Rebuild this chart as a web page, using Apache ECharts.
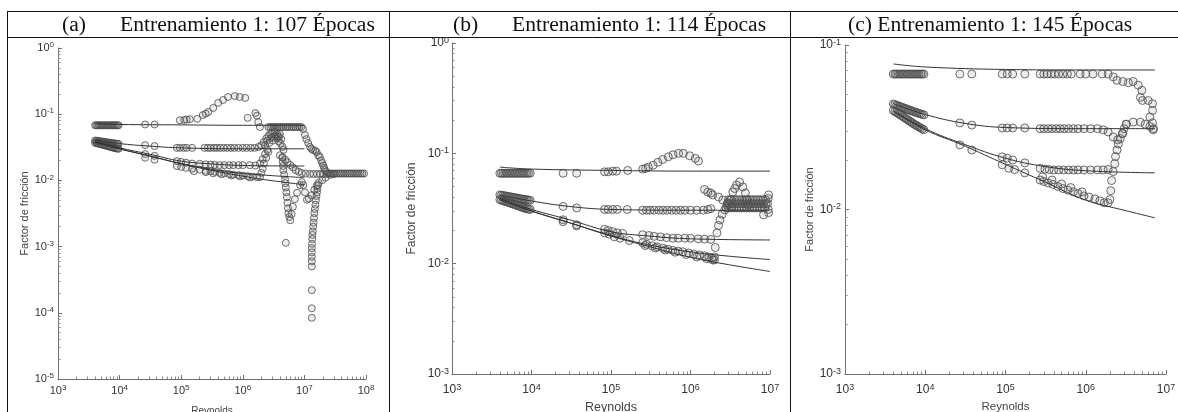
<!DOCTYPE html>
<html>
<head>
<meta charset="utf-8">
<script src="https://cdn.jsdelivr.net/npm/echarts@6/dist/echarts.min.js"></script>
<style>
    html, body { margin: 0; padding: 0; background: #fff; }
    #chart { width: 1178px; height: 412px; }
</style>
</head>
<body>
<div id="chart"></div>
<script>
// ---------- data: [Reynolds, factor de friccion] ----------
const titles = ['Entrenamiento 1: 107 Épocas', 'Entrenamiento 1: 114 Épocas', '(c) Entrenamiento 1: 145 Épocas'];
const tags = ['(a)', '(b)', ''];

// panel (a)
const aLines = [
    [[4000, 0.072], [10000, 0.070], [100000, 0.069], [1000000, 0.068], [10000000, 0.068]],
    [[4000, 0.041], [10000, 0.036], [30000, 0.033], [100000, 0.031], [1000000, 0.030], [10000000, 0.030]],
    [[4000, 0.039], [10000, 0.031], [30000, 0.025], [100000, 0.0195], [300000, 0.0178], [1000000, 0.0168], [10000000, 0.0165]],
    [[4000, 0.038], [10000, 0.030], [30000, 0.0235], [100000, 0.018], [300000, 0.0148], [1000000, 0.0128], [3000000, 0.0118], [10000000, 0.011]],
    [[4000, 0.038], [10000, 0.030], [30000, 0.0235], [100000, 0.0178], [300000, 0.0143], [1000000, 0.0116], [3000000, 0.0099], [10000000, 0.0086]]
];
const aTop = [
    [4000, 0.068], [4190, 0.068], [4390, 0.068], [4600, 0.068], [4810, 0.068], [5040, 0.068], [5280, 0.068],
    [5530, 0.068], [5790, 0.068], [6060, 0.068], [6350, 0.068], [6650, 0.068], [6960, 0.068], [7290, 0.068],
    [7640, 0.068], [8000, 0.068], [8380, 0.068], [8770, 0.068], [9190, 0.068], [9620, 0.068],
    [26000, 0.070], [37000, 0.070],
    [95000, 0.081], [112000, 0.082], [123000, 0.083], [138000, 0.084], [182000, 0.085],
    [224000, 0.097], [250000, 0.102], [275000, 0.108], [331000, 0.124], [398000, 0.148], [479000, 0.164],
    [575000, 0.182], [741000, 0.188], [891000, 0.182], [1096000, 0.176],
    [1200000, 0.088], [1600000, 0.104], [1700000, 0.095], [1780000, 0.076], [1900000, 0.064]
];
const aBand = [
    [2600000, 0.064], [2800000, 0.064], [3000000, 0.064], [3200000, 0.064], [3450000, 0.064], [3700000, 0.064],
    [4000000, 0.064], [4300000, 0.064], [4600000, 0.064], [5000000, 0.064], [5350000, 0.064], [5750000, 0.064],
    [6200000, 0.064], [6650000, 0.064], [7150000, 0.064], [7700000, 0.064], [8300000, 0.064], [8900000, 0.064],
    [9500000, 0.060], [10200000, 0.0485], [10800000, 0.042], [11500000, 0.0367], [12300000, 0.0321], [13000000, 0.030],
    [13800000, 0.0287], [15000000, 0.028], [15800000, 0.0268], [16800000, 0.024], [17800000, 0.0225], [18700000, 0.020],
    [19500000, 0.0183], [20200000, 0.0168], [20900000, 0.0154], [21600000, 0.0143], [22400000, 0.0134], [24000000, 0.0128],
    [25500000, 0.0127], [27300000, 0.0127], [29200000, 0.0127], [31300000, 0.0127], [33500000, 0.0127], [35900000, 0.0127],
    [38400000, 0.0127], [41100000, 0.0127], [44000000, 0.0127], [47100000, 0.0127], [50400000, 0.0127], [54000000, 0.0127],
    [57800000, 0.0127], [61900000, 0.0127], [66300000, 0.0127], [71000000, 0.0127], [76000000, 0.0127], [81400000, 0.0127],
    [87200000, 0.0127], [93000000, 0.0127]
];
const aMid = [
    [4000, 0.0400], [4190, 0.0397], [4390, 0.0395], [4600, 0.0392], [4810, 0.0390], [5040, 0.0387], [5280, 0.0385],
    [5530, 0.0382], [5790, 0.0380], [6060, 0.0377], [6350, 0.0375], [6650, 0.0372], [6960, 0.0370], [7290, 0.0367],
    [7640, 0.0365], [8000, 0.0363], [8380, 0.0361], [8770, 0.0359], [9190, 0.0357], [9620, 0.0355],
    [4000, 0.0370], [4190, 0.0366], [4390, 0.0362], [4600, 0.0358], [4810, 0.0354], [5040, 0.0350], [5280, 0.0346],
    [5530, 0.0342], [5790, 0.0338], [6060, 0.0334], [6350, 0.0330], [6650, 0.0326], [6960, 0.0322], [7290, 0.0318],
    [7640, 0.0314], [8000, 0.0311], [8380, 0.0308], [8770, 0.0305], [9190, 0.0302], [9620, 0.0300],
    [26000, 0.034], [37000, 0.033], [85000, 0.031], [95000, 0.031], [110000, 0.031], [123000, 0.031], [150000, 0.031],
    [240000, 0.031], [270000, 0.031], [300000, 0.031], [340000, 0.031], [380000, 0.031], [430000, 0.031], [490000, 0.031],
    [560000, 0.031], [640000, 0.031], [730000, 0.031], [850000, 0.031], [1000000, 0.031], [1150000, 0.031],
    [1350000, 0.031], [1550000, 0.031], [1800000, 0.032]
];
const aCluster = [
    [2000000, 0.034], [2200000, 0.038], [2400000, 0.043], [2600000, 0.047], [2800000, 0.050], [3000000, 0.052],
    [3300000, 0.054], [3600000, 0.050], [3900000, 0.046], [4200000, 0.042], [2900000, 0.044], [3200000, 0.046],
    [3500000, 0.043], [3800000, 0.039], [4100000, 0.036], [4400000, 0.032], [4600000, 0.029], [2500000, 0.040],
    [2700000, 0.037], [3100000, 0.040], [3400000, 0.048], [3700000, 0.045], [4000000, 0.050], [2300000, 0.034],
    [4000000, 0.024], [4400000, 0.022], [4900000, 0.0205], [5300000, 0.0188], [5900000, 0.0171], [6500000, 0.0157],
    [7200000, 0.0143], [8100000, 0.0135], [9100000, 0.0129], [10500000, 0.0127], [12300000, 0.0125], [14000000, 0.0125],
    [16000000, 0.0125], [18000000, 0.0125], [20000000, 0.0125], [23000000, 0.0125]
];
const aLow = [
    [26000, 0.025], [37000, 0.0235], [85000, 0.0195], [100000, 0.019], [120000, 0.0185], [150000, 0.018], [200000, 0.0178],
    [250000, 0.0175], [300000, 0.0173], [350000, 0.0172], [420000, 0.017], [500000, 0.017], [600000, 0.017], [700000, 0.017],
    [850000, 0.017], [1000000, 0.017], [1300000, 0.017], [1600000, 0.0168], [1900000, 0.018], [2100000, 0.021],
    [2300000, 0.025], [2500000, 0.029],
    [26000, 0.022], [37000, 0.0205], [85000, 0.0165], [100000, 0.016], [120000, 0.0155], [150000, 0.015], [200000, 0.0145],
    [250000, 0.014], [300000, 0.0138], [350000, 0.0135], [420000, 0.013], [500000, 0.0128], [600000, 0.0125], [700000, 0.0122],
    [850000, 0.012], [1000000, 0.0118], [1200000, 0.0116], [1450000, 0.0114], [1700000, 0.0112], [1900000, 0.0112],
    [2000000, 0.013], [2100000, 0.015], [2200000, 0.018], [2400000, 0.022], [2600000, 0.027],
    [160000, 0.0138], [250000, 0.0133], [330000, 0.0128], [450000, 0.0124], [650000, 0.0119], [900000, 0.0115], [1300000, 0.0111]
];
const aDip = [
    [4400000, 0.0225], [4450000, 0.019], [4500000, 0.0165], [4550000, 0.0143], [4700000, 0.0122], [4850000, 0.0103],
    [4900000, 0.0091], [5000000, 0.0078], [5100000, 0.0066], [5200000, 0.0056], [5300000, 0.0046], [5400000, 0.0038],
    [5500000, 0.0032], [5700000, 0.0028], [5900000, 0.0025], [6200000, 0.0031], [6500000, 0.004], [7000000, 0.0052],
    [7600000, 0.0065], [8500000, 0.0085], [9100000, 0.0094],
    [9600000, 0.0085], [10200000, 0.0066], [11000000, 0.0051], [11800000, 0.0053], [13200000, 0.006], [14500000, 0.0072],
    [15800000, 0.0083], [17000000, 0.0092], [19500000, 0.0101], [22000000, 0.011], [26300000, 0.0121], [30000000, 0.0124],
    [5000000, 0.00114]
];
const aSpike = [
    [16600000, 0.0085], [16300000, 0.0075], [16000000, 0.0066], [15700000, 0.0058], [15400000, 0.005], [15100000, 0.0043],
    [14800000, 0.0037], [14500000, 0.0032], [14300000, 0.0027], [14100000, 0.0023], [13900000, 0.002], [13700000, 0.0017],
    [13500000, 0.0015], [13400000, 0.0013], [13300000, 0.0011], [13200000, 0.00095], [13200000, 0.00082], [13200000, 0.0007],
    [13200000, 0.0006], [13200000, 0.0005], [13200000, 0.00022], [13200000, 0.000117], [13200000, 0.000084]
];

// panel (b)
const bLines = [
    [[4000, 0.075], [10000, 0.072], [100000, 0.070], [1000000, 0.069], [10000000, 0.069]],
    [[4000, 0.042], [10000, 0.037], [30000, 0.033], [100000, 0.031], [1000000, 0.0305], [10000000, 0.0305]],
    [[4000, 0.039], [10000, 0.031], [30000, 0.025], [100000, 0.0195], [300000, 0.0178], [1000000, 0.0168], [10000000, 0.0164]],
    [[4000, 0.038], [10000, 0.030], [30000, 0.0235], [100000, 0.018], [300000, 0.0148], [1000000, 0.0128], [3000000, 0.0117], [10000000, 0.0109]],
    [[4000, 0.038], [10000, 0.030], [30000, 0.0235], [100000, 0.0178], [300000, 0.0143], [1000000, 0.0114], [3000000, 0.0098], [10000000, 0.0085]]
];
const bTop = [
    [4000, 0.066], [4190, 0.066], [4390, 0.066], [4600, 0.066], [4810, 0.066], [5040, 0.066], [5280, 0.066],
    [5530, 0.066], [5790, 0.066], [6060, 0.066], [6350, 0.066], [6650, 0.066], [6960, 0.066], [7290, 0.066],
    [7640, 0.066], [8000, 0.066], [8380, 0.066], [8770, 0.066], [9190, 0.066], [9620, 0.066],
    [25000, 0.066], [37000, 0.066], [83000, 0.068], [92000, 0.068], [105000, 0.069], [117000, 0.069], [162000, 0.070],
    [251000, 0.072], [273000, 0.073], [295000, 0.075], [339000, 0.078], [389000, 0.083], [447000, 0.088], [525000, 0.093],
    [603000, 0.097], [708000, 0.100], [813000, 0.100], [977000, 0.095], [1150000, 0.090], [1260000, 0.085]
];
const bMid = [
    [4000, 0.0420], [4190, 0.0417], [4390, 0.0415], [4600, 0.0412], [4810, 0.0410], [5040, 0.0407], [5280, 0.0405],
    [5530, 0.0402], [5790, 0.0400], [6060, 0.0397], [6350, 0.0395], [6650, 0.0392], [6960, 0.0390], [7290, 0.0387],
    [7640, 0.0385], [8000, 0.0383], [8380, 0.0381], [8770, 0.0379], [9190, 0.0377], [9620, 0.0375],
    [4000, 0.0380], [4190, 0.0376], [4390, 0.0372], [4600, 0.0368], [4810, 0.0364], [5040, 0.0360], [5280, 0.0356],
    [5530, 0.0352], [5790, 0.0348], [6060, 0.0344], [6350, 0.0340], [6650, 0.0336], [6960, 0.0332], [7290, 0.0328],
    [7640, 0.0324], [8000, 0.0320], [8380, 0.0317], [8770, 0.0314], [9190, 0.0312], [9620, 0.0310],
    [25000, 0.033], [37000, 0.032], [83000, 0.031], [92000, 0.031], [105000, 0.031], [120000, 0.031], [160000, 0.031],
    [250000, 0.0305], [280000, 0.0305], [310000, 0.0305], [350000, 0.0305], [400000, 0.0305], [450000, 0.0305],
    [510000, 0.0305], [580000, 0.0305], [660000, 0.0305], [750000, 0.0305], [850000, 0.0305], [1000000, 0.0305],
    [1200000, 0.0305], [1450000, 0.0305], [1650000, 0.031], [1800000, 0.0315]
];
const bBlob = [
    [2800000, 0.032], [3000000, 0.032], [3250000, 0.032], [3500000, 0.032], [3800000, 0.032], [4100000, 0.032],
    [4400000, 0.032], [4750000, 0.032], [5100000, 0.032], [5500000, 0.032], [5950000, 0.032], [6400000, 0.032],
    [6900000, 0.032], [7450000, 0.032], [8000000, 0.032], [8600000, 0.032],
    [2900000, 0.035], [3100000, 0.035], [3350000, 0.035], [3600000, 0.035], [3900000, 0.035], [4200000, 0.035],
    [4550000, 0.035], [4900000, 0.035], [5300000, 0.035], [5700000, 0.035], [6150000, 0.035], [6650000, 0.035],
    [7150000, 0.035], [7700000, 0.035], [8300000, 0.035], [8900000, 0.035],
    [3000000, 0.038], [3250000, 0.038], [3500000, 0.038], [3800000, 0.038], [4100000, 0.038], [4450000, 0.038],
    [4800000, 0.038], [5200000, 0.038], [5600000, 0.038], [6050000, 0.038], [6550000, 0.038], [7050000, 0.038],
    [7600000, 0.038], [8200000, 0.038], [8800000, 0.038],
    [9300000, 0.035], [9500000, 0.039], [9500000, 0.031], [9600000, 0.042], [9600000, 0.029], [8300000, 0.0277],
    [1500000, 0.047], [1650000, 0.0446], [1800000, 0.0437], [1900000, 0.042], [2250000, 0.0402], [2550000, 0.0378],
    [2950000, 0.0356], [3300000, 0.0326],
    [1900000, 0.0108], [2000000, 0.0115], [2050000, 0.014], [2150000, 0.019], [2250000, 0.0222], [2350000, 0.0249],
    [2500000, 0.028], [2700000, 0.0307], [2900000, 0.034], [3150000, 0.0378], [3400000, 0.0446], [3600000, 0.048],
    [3800000, 0.0516], [4150000, 0.055], [4550000, 0.0496], [4900000, 0.0437], [5100000, 0.0378], [5300000, 0.034]
];
const bLow = [
    [25000, 0.025], [37000, 0.0225], [83000, 0.0205], [92000, 0.020], [105000, 0.0195], [120000, 0.019], [140000, 0.0188],
    [250000, 0.0183], [300000, 0.018], [350000, 0.0177], [420000, 0.0175], [500000, 0.0172], [600000, 0.017], [700000, 0.017],
    [850000, 0.017], [1000000, 0.017], [1250000, 0.0168], [1500000, 0.0167], [1800000, 0.0166],
    [25000, 0.024], [37000, 0.022], [83000, 0.019], [95000, 0.0185], [110000, 0.0175], [130000, 0.017], [170000, 0.0162],
    [250000, 0.0155], [280000, 0.015], [330000, 0.0145], [380000, 0.0142], [450000, 0.0138], [520000, 0.0135],
    [600000, 0.0132], [700000, 0.013], [800000, 0.0128], [950000, 0.0125], [1100000, 0.0122], [1300000, 0.012],
    [1500000, 0.0118], [1700000, 0.0115], [1850000, 0.0112], [2000000, 0.0108],
    [270000, 0.0146], [360000, 0.0139], [480000, 0.0133], [640000, 0.0127], [880000, 0.0121], [1200000, 0.0115], [1600000, 0.0111]
];

// panel (c)
const cLines = [
    [[4000, 0.0767], [10000, 0.0735], [100000, 0.071], [1000000, 0.0705], [7300000, 0.0705]],
    [[4000, 0.044], [10000, 0.0378], [30000, 0.0335], [100000, 0.0315], [1000000, 0.031], [7300000, 0.031]],
    [[4000, 0.040], [10000, 0.031], [30000, 0.025], [100000, 0.0205], [300000, 0.0183], [1000000, 0.0172], [7300000, 0.0167]],
    [[4000, 0.0395], [10000, 0.0305], [30000, 0.0245], [100000, 0.0188], [300000, 0.0148], [1000000, 0.0114], [3000000, 0.0099], [7300000, 0.0089]]
];
const cTop = [
    [4000, 0.0666], [4190, 0.0666], [4390, 0.0666], [4600, 0.0666], [4810, 0.0666], [5040, 0.0666], [5280, 0.0666],
    [5530, 0.0666], [5790, 0.0666], [6060, 0.0666], [6350, 0.0666], [6650, 0.0666], [6960, 0.0666], [7290, 0.0666],
    [7640, 0.0666], [8000, 0.0666], [8380, 0.0666], [8770, 0.0666], [9190, 0.0666], [9620, 0.0666],
    [27000, 0.0666], [38000, 0.0666], [91000, 0.0666], [105000, 0.0666], [123000, 0.0666], [174000, 0.0666],
    [270000, 0.0666], [300000, 0.0666], [330000, 0.0666], [370000, 0.0666], [410000, 0.0666], [460000, 0.0666],
    [520000, 0.0666], [590000, 0.0666], [660000, 0.0666], [850000, 0.0666], [1000000, 0.0666], [1230000, 0.0666],
    [1600000, 0.0666], [1900000, 0.0666], [2200000, 0.064], [2450000, 0.061], [2900000, 0.060], [3400000, 0.059],
    [3900000, 0.060], [4500000, 0.057], [5000000, 0.053], [4800000, 0.048], [5100000, 0.046], [6000000, 0.046],
    [6800000, 0.044], [6800000, 0.040], [6300000, 0.0365], [6800000, 0.0336], [6900000, 0.0305]
];
const cMid = [
    [4000, 0.0438], [4190, 0.0434], [4390, 0.0430], [4600, 0.0427], [4810, 0.0423], [5040, 0.0420], [5280, 0.0416],
    [5530, 0.0413], [5790, 0.0409], [6060, 0.0406], [6350, 0.0402], [6650, 0.0399], [6960, 0.0396], [7290, 0.0393],
    [7640, 0.0390], [8000, 0.0387], [8380, 0.0384], [8770, 0.0381], [9190, 0.0378], [9620, 0.0376],
    [4000, 0.0400], [4190, 0.0394], [4390, 0.0389], [4600, 0.0383], [4810, 0.0378], [5040, 0.0372], [5280, 0.0367],
    [5530, 0.0361], [5790, 0.0356], [6060, 0.0351], [6350, 0.0345], [6650, 0.0340], [6960, 0.0335], [7290, 0.0330],
    [7640, 0.0326], [8000, 0.0321], [8380, 0.0317], [8770, 0.0313], [9190, 0.0309], [9620, 0.0305],
    [27000, 0.0336], [38000, 0.0326], [91000, 0.0313], [105000, 0.0313], [123000, 0.0313], [174000, 0.0313],
    [270000, 0.031], [300000, 0.031], [340000, 0.031], [380000, 0.031], [430000, 0.031], [480000, 0.031],
    [540000, 0.031], [610000, 0.031], [700000, 0.031], [800000, 0.031], [950000, 0.031], [1150000, 0.031],
    [1400000, 0.031], [1650000, 0.0305], [1900000, 0.0296], [2200000, 0.0276], [2500000, 0.0265], [2900000, 0.029],
    [3200000, 0.033], [3900000, 0.034], [4800000, 0.034], [5500000, 0.033], [6300000, 0.032], [7000000, 0.031]
];
const cLow = [
    [27000, 0.0247], [38000, 0.023], [91000, 0.0209], [105000, 0.0205], [123000, 0.020], [174000, 0.0192],
    [270000, 0.0178], [310000, 0.0176], [350000, 0.0175], [400000, 0.0174], [460000, 0.0174], [530000, 0.0174],
    [610000, 0.0174], [700000, 0.0174], [800000, 0.0174], [950000, 0.0174], [1150000, 0.0174], [1400000, 0.0174],
    [1650000, 0.0174], [1900000, 0.0175],
    [91000, 0.0187], [110000, 0.0178], [130000, 0.0175], [174000, 0.0167], [270000, 0.0151], [300000, 0.0148],
    [340000, 0.0145], [390000, 0.0142], [450000, 0.0138], [520000, 0.0134], [600000, 0.0131], [700000, 0.0128],
    [800000, 0.0125], [950000, 0.0121], [1100000, 0.0119], [1300000, 0.0116], [1500000, 0.0113], [1700000, 0.011],
    [1900000, 0.011], [290000, 0.0158], [380000, 0.0151], [500000, 0.0143], [650000, 0.0136], [900000, 0.0128],
    [2000000, 0.0115], [2050000, 0.013], [2100000, 0.015], [2200000, 0.017], [2300000, 0.019], [2350000, 0.021],
    [2450000, 0.023], [2550000, 0.025], [2700000, 0.027], [2850000, 0.029], [3000000, 0.031], [3200000, 0.033]
];

// ---------- layout per panel ----------
const panels = [
    { grid: { left: 58, top: 48, width: 308, height: 331 }, xMax: 1e8, yMin: 1e-5, yMax: 1,
      labelSize: 11, xMargin: 5, yMargin: 4, xName: 10, yName: 11, xGap: 27, yGap: 26, size: 7,
      lines: aLines, points: [aTop, aBand, aMid, aCluster, aLow, aDip, aSpike] },
    { grid: { left: 452, top: 43, width: 318, height: 331 }, xMax: 1e7, yMin: 1e-3, yMax: 1,
      labelSize: 12, xMargin: 9, yMargin: 3, xName: 12.5, yName: 12, xGap: 21, yGap: 34, size: 8,
      lines: bLines, points: [bTop, bMid, bBlob, bLow] },
    { grid: { left: 845, top: 45, width: 321, height: 329 }, xMax: 1e7, yMin: 1e-3, yMax: 0.1,
      labelSize: 12, xMargin: 9, yMargin: 4, xName: 11.5, yName: 11, xGap: 20, yGap: 29, size: 8,
      lines: cLines, points: [cTop, cMid, cLow] }
];

function powLabel(v) {
    return '{b|10}{s|' + Math.round(Math.log10(v)) + '}';
}

// 2..9 x 10^k between the decades of an axis
function minorValues(lo, hi) {
    const out = [];
    for (let e = Math.round(Math.log10(lo)); e < Math.round(Math.log10(hi)); e++) {
        for (let k = 2; k <= 9; k++) out.push(k * Math.pow(10, e));
    }
    return out;
}

function logAxis(p, i, isX) {
    const min = isX ? 1e3 : p.yMin, max = isX ? p.xMax : p.yMax;
    return {
        type: 'log', logBase: 10, gridIndex: i,
        position: isX ? 'bottom' : 'left',
        min: min, max: max,
        name: isX ? 'Reynolds' : 'Factor de fricción',
        nameLocation: 'middle',
        nameGap: isX ? p.xGap : p.yGap,
        nameTextStyle: { fontFamily: 'Liberation Sans', fontSize: isX ? p.xName : p.yName, color: '#444' },
        axisLine: { show: true, lineStyle: { color: '#707070', width: 1 } },
        axisTick: { show: true, inside: true, length: 4, lineStyle: { color: '#707070' } },
        splitLine: { show: false },
        axisLabel: {
            margin: isX ? p.xMargin : p.yMargin,
            fontSize: p.labelSize,
            fontFamily: 'Liberation Sans',
            color: '#333',
            formatter: powLabel,
            rich: {
                b: { fontFamily: 'Liberation Sans', fontSize: p.labelSize, lineHeight: 14, color: '#333' },
                s: { fontFamily: 'Liberation Sans', fontSize: p.labelSize - 3, lineHeight: 14, verticalAlign: 'top', color: '#333' }
            }
        }
    };
}

function minorAxis(p, i, isX) {
    const min = isX ? 1e3 : p.yMin, max = isX ? p.xMax : p.yMax;
    return {
        type: 'log', logBase: 10, gridIndex: i,
        position: isX ? 'bottom' : 'left',
        min: min, max: max,
        axisLine: { show: false },
        axisLabel: { show: false },
        splitLine: { show: false },
        axisTick: { show: true, inside: true, length: 2.5, customValues: minorValues(min, max),
            lineStyle: { color: '#8a8a8a' } }
    };
}

const option = {
    animation: false,
    backgroundColor: '#fff',
    grid: [], xAxis: [], yAxis: [], series: [],
    graphic: []
};

panels.forEach(function (p, i) {
    option.grid.push(Object.assign({ containLabel: false, outerBoundsMode: 'none' }, p.grid));
    option.xAxis.push(logAxis(p, i, true));
    option.yAxis.push(logAxis(p, i, false));
    p.points.forEach(function (d) {
        option.series.push({
            type: 'scatter', xAxisIndex: i, yAxisIndex: i, data: d,
            symbol: 'circle', symbolSize: p.size, z: 2,
            itemStyle: { color: 'rgba(100,100,100,0.14)', borderColor: '#4c4c4c', borderWidth: 1 }
        });
    });
    p.lines.forEach(function (d) {
        option.series.push({
            type: 'line', xAxisIndex: i, yAxisIndex: i, data: d,
            smooth: 0.4, showSymbol: false, z: 3,
            lineStyle: { color: '#333', width: 1 }
        });
    });
});
panels.forEach(function (p, i) {
    option.xAxis.push(minorAxis(p, i, true));
    option.yAxis.push(minorAxis(p, i, false));
});

// table frame around the three figures
[[7, 11.5, 1178, 11.5], [7, 37.5, 1178, 37.5], [7.5, 11, 7.5, 412], [389.5, 11, 389.5, 412], [790.5, 11, 790.5, 412]]
    .forEach(function (s) {
        option.graphic.push({ type: 'line', silent: true, shape: { x1: s[0], y1: s[1], x2: s[2], y2: s[3] },
            style: { stroke: '#111', lineWidth: 1 } });
    });
[[62, tags[0]], [120, titles[0]], [453, tags[1]], [512, titles[1]], [848, titles[2]]].forEach(function (t) {
    if (!t[1]) return;
    option.graphic.push({ type: 'text', silent: true, x: t[0], y: 25,
        style: { text: t[1], fontSize: 21.6, fontFamily: 'Liberation Serif', fill: '#111', align: 'left', verticalAlign: 'middle' } });
});

const chart = echarts.init(document.getElementById('chart'));
chart.setOption(option);
</script>
</body>
</html>
